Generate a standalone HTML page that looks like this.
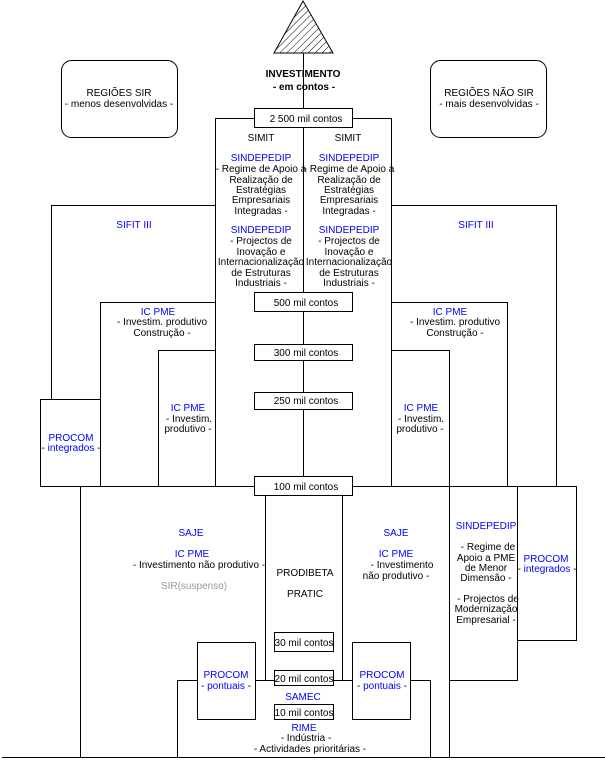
<!DOCTYPE html>
<html><head><meta charset="utf-8"><style>
html,body{margin:0;padding:0;background:#fff}
svg{display:block}
text{font-family:"Liberation Sans",sans-serif;font-size:10px;fill:#000}
.b{fill:#0000ff}
.g{fill:#999}
</style></head><body>
<svg width="605" height="769" viewBox="0 0 605 769" xmlns="http://www.w3.org/2000/svg">
<defs>
<pattern id="h" width="5" height="5" patternUnits="userSpaceOnUse" patternTransform="rotate(45)">
<line x1="0" y1="0" x2="0" y2="5" stroke="#000" stroke-width="1"/>
</pattern>
<clipPath id="tc"><polygon points="303,1 274,53 333,53"/></clipPath>
</defs>
<g fill="none" stroke="#000" stroke-width="1">
<polygon points="303,1 274,53 333,53" fill="url(#h)"/>
<!-- central line -->
<line x1="303.5" y1="53" x2="303.5" y2="476"/>
<!-- rounded boxes -->
<rect x="61.5" y="60.5" width="116" height="77" rx="10"/>
<rect x="430.5" y="60.5" width="116" height="77" rx="10"/>
<!-- SIMIT box -->
<polyline points="215.5,487 215.5,118.5 391.5,118.5 391.5,487"/>
<!-- SIFIT -->
<polyline points="51.5,399 51.5,205.5 215.5,205.5"/>
<polyline points="391.5,205.5 556.5,205.5 556.5,487"/>
<!-- IC PME outer -->
<polyline points="100.5,487 100.5,302.5 215.5,302.5"/>
<polyline points="391.5,302.5 507.5,302.5 507.5,487"/>
<!-- IC PME inner -->
<polyline points="158.5,487 158.5,350.5 215.5,350.5"/>
<polyline points="391.5,350.5 449.5,350.5 449.5,487"/>
<!-- PROCOM left -->
<rect x="40.5" y="399.5" width="60" height="87"/>
<!-- horizontal at 487 -->
<line x1="40.5" y1="486.5" x2="576.5" y2="486.5"/>
<!-- lower big box -->
<line x1="80.5" y1="487" x2="80.5" y2="757"/>
<line x1="449.5" y1="487" x2="449.5" y2="757"/>
<!-- PRODIBETA -->
<line x1="265.5" y1="496" x2="265.5" y2="680"/>
<line x1="342.5" y1="496" x2="342.5" y2="680"/>
<!-- SAMEC box -->
<polyline points="177.5,757 177.5,680.5 430.5,680.5 430.5,757"/>
<!-- SINDEPEDIP box -->
<polyline points="449.5,680.5 517.5,680.5 517.5,487"/>
<!-- PROCOM right integrados -->
<rect x="517.5" y="486.5" width="59" height="154"/>
<!-- bottom line -->
<line x1="2" y1="757.5" x2="605" y2="757.5"/>
</g>
<!-- white-filled boxes -->
<g fill="#fff" stroke="#000" stroke-width="1">
<rect x="254.5" y="108.5" width="98" height="19"/>
<rect x="254.5" y="292.5" width="98" height="19"/>
<rect x="254.5" y="344.5" width="98" height="16"/>
<rect x="254.5" y="392.5" width="98" height="17"/>
<rect x="254.5" y="476.5" width="98" height="19"/>
<rect x="274.5" y="632.5" width="59" height="19"/>
<rect x="274.5" y="670.5" width="59" height="15"/>
<rect x="274.5" y="704.5" width="59" height="15"/>
<rect x="197.5" y="642.5" width="58" height="77"/>
<rect x="352.5" y="642.5" width="58" height="77"/>
</g>
<g text-anchor="middle">
<text x="303" y="77" style="font-weight:bold">INVESTIMENTO</text>
<text x="304" y="90" style="font-weight:bold">- em contos -</text>
<text x="119" y="96">REGIÕES SIR</text>
<text x="119" y="107">- menos desenvolvidas -</text>
<text x="489" y="96">REGIÕES NÃO SIR</text>
<text x="489" y="107">- mais desenvolvidas -</text>
<text x="306" y="122">2 500 mil contos</text>
<text x="306" y="306">500 mil contos</text>
<text x="306" y="356">300 mil contos</text>
<text x="306" y="404">250 mil contos</text>
<text x="306" y="490">100 mil contos</text>
<text x="304" y="646">30 mil contos</text>
<text x="304" y="682">20 mil contos</text>
<text x="304" y="716">10 mil contos</text>

<text x="261" y="141">SIMIT</text>
<text x="348" y="141">SIMIT</text>
<g>
<text class="b" x="261" y="161">SINDEPEDIP</text>
<text x="261" y="172">- Regime de Apoio à</text>
<text x="261" y="183">Realização de</text>
<text x="261" y="193">Estratégias</text>
<text x="261" y="203">Empresariais</text>
<text x="261" y="214">Integradas -</text>
<text class="b" x="261" y="233">SINDEPEDIP</text>
<text x="261" y="244">- Projectos de</text>
<text x="261" y="255">Inovação e</text>
<text x="261" y="265">Internacionalização</text>
<text x="261" y="276">de Estruturas</text>
<text x="261" y="286">Industriais -</text>
</g>
<g>
<text class="b" x="349" y="161">SINDEPEDIP</text>
<text x="349" y="172">- Regime de Apoio à</text>
<text x="349" y="183">Realização de</text>
<text x="349" y="193">Estratégias</text>
<text x="349" y="203">Empresariais</text>
<text x="349" y="214">Integradas -</text>
<text class="b" x="349" y="233">SINDEPEDIP</text>
<text x="349" y="244">- Projectos de</text>
<text x="349" y="255">Inovação e</text>
<text x="349" y="265">Internacionalização</text>
<text x="349" y="276">de Estruturas</text>
<text x="349" y="286">Industriais -</text>
</g>
<text class="b" x="134" y="228">SIFIT III</text>
<text class="b" x="476" y="228">SIFIT III</text>

<text class="b" x="158" y="315">IC PME</text>
<text x="162" y="325">- Investim. produtivo</text>
<text x="162" y="336">Construção  -</text>
<text class="b" x="450" y="315">IC PME</text>
<text x="455" y="325">- Investim. produtivo</text>
<text x="455" y="336">Construção  -</text>

<text class="b" x="188" y="411">IC PME</text>
<text x="189" y="422">- Investim.</text>
<text x="188" y="432">produtivo -</text>
<text class="b" x="421" y="411">IC PME</text>
<text x="421" y="422">- Investim.</text>
<text x="420" y="432">produtivo -</text>

<text class="b" x="71" y="441">PROCOM</text>
<text x="71" y="451"><tspan>- </tspan><tspan class="b">integrados</tspan><tspan> -</tspan></text>

<text class="b" x="191" y="536">SAJE</text>
<text class="b" x="192" y="557">IC PME</text>
<text x="199" y="568">- Investimento não produtivo -</text>
<text class="g" x="194" y="589">SIR(suspenso)</text>
<text class="b" x="396" y="536">SAJE</text>
<text class="b" x="396" y="557">IC PME</text>
<text x="402" y="568">- Investimento</text>
<text x="396" y="579">não produtivo -</text>

<text x="305" y="576">PRODIBETA</text>
<text x="305" y="597">PRATIC</text>

<text class="b" x="486" y="529">SINDEPEDIP</text>
<text x="488" y="550">- Regime de</text>
<text x="486" y="561">Apoio a PME</text>
<text x="486" y="571">de Menor</text>
<text x="486" y="581">Dimensão -</text>
<text x="488" y="602">- Projectos de</text>
<text x="486" y="612">Modernização</text>
<text x="486" y="623">Empresarial -</text>

<text class="b" x="546" y="562">PROCOM</text>
<text x="547" y="572"><tspan>- </tspan><tspan class="b">integrados</tspan><tspan> -</tspan></text>

<text class="b" x="226" y="678">PROCOM</text>
<text x="226" y="689"><tspan>- </tspan><tspan class="b">pontuais</tspan><tspan> -</tspan></text>
<text class="b" x="382" y="678">PROCOM</text>
<text x="382" y="689"><tspan>- </tspan><tspan class="b">pontuais</tspan><tspan> -</tspan></text>

<text class="b" x="303" y="700">SAMEC</text>
<text class="b" x="304" y="731">RIME</text>
<text x="306" y="741">- Indústria -</text>
<text x="310" y="752">- Actividades prioritárias -</text>
</g>
</svg>
</body></html>
